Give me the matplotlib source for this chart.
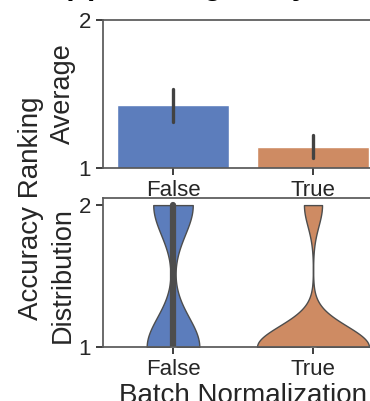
import numpy as np
import pandas as pd
import matplotlib
matplotlib.use('Agg')
from matplotlib import pyplot as plt
import seaborn as sns

sns.set_theme(style='ticks')
plt.rcParams['font.family'] = ['Liberation Sans', 'DejaVu Sans']

# Batch Normalization off / on
categories = ['False', 'True']
rank_values = [1, 2]
# number of runs that got rank 1 and rank 2
counts_false = [44, 33]
counts_true = [62, 10]
colors = ['#5C7DBC', '#CE8B63']

rows = []
for cat, counts in zip(categories, [counts_false, counts_true]):
    for r, c in zip(rank_values, counts):
        rows += [(cat, r)] * c
df = pd.DataFrame(rows, columns=['bn', 'rank'])

W, H = 370, 401
fig = plt.figure(figsize=(W / 100, H / 100), dpi=100)
ax1 = fig.add_axes([103 / W, (H - 168) / H, 280 / W, 148 / H])
ax2 = fig.add_axes([103 / W, (H - 347) / H, 280 / W, 149 / H])

sns.barplot(data=df, x='bn', y='rank', hue='bn', order=categories, hue_order=categories,
            palette=colors, saturation=1, errorbar=('ci', 95), seed=0, legend=False, ax=ax1,
            err_kws={'color': '.26', 'linewidth': 2.4})
ax1.set_ylim(1, 2)
ax1.set_yticks([1, 2])

sns.violinplot(data=df, x='bn', y='rank', hue='bn', order=categories, hue_order=categories,
               palette=colors, saturation=1, cut=0, common_norm=True, legend=False, ax=ax2,
               linewidth=1.0, linecolor='.3')
ax2.set_ylim(1, 2.05)
ax2.set_yticks([1, 2])

for ax in (ax1, ax2):
    ax.set_xlim(-0.5, 1.5)
    ax.tick_params(labelsize=16, length=5, width=1.25, colors='.15')
    for s in ax.spines.values():
        s.set_linewidth(1.25)
        s.set_color('.35')

ax1.set_xlabel('')
ax1.set_ylabel('Average', fontsize=19.5, color='.15')
ax1.yaxis.set_label_coords(-0.096, 0.5)
ax2.set_ylabel('Distribution', fontsize=19.5, color='.15')
ax2.yaxis.set_label_coords(-0.096, 0.48)
ax2.set_xlabel('Batch Normalization', fontsize=20, color='.15', labelpad=2)

fig.text(31 / W, 1 - 208.5 / H, 'Accuracy Ranking', rotation=90, ha='center', va='center',
         fontsize=20, color='.15')
# title sits mostly above the visible area, only its bottom shows
fig.text(63 / W, 1 + 5 / H, '(c) Ranking Analysis', ha='left', va='baseline',
         fontsize=21, fontweight='bold', color='black')

fig.savefig('out.png', dpi=100)
